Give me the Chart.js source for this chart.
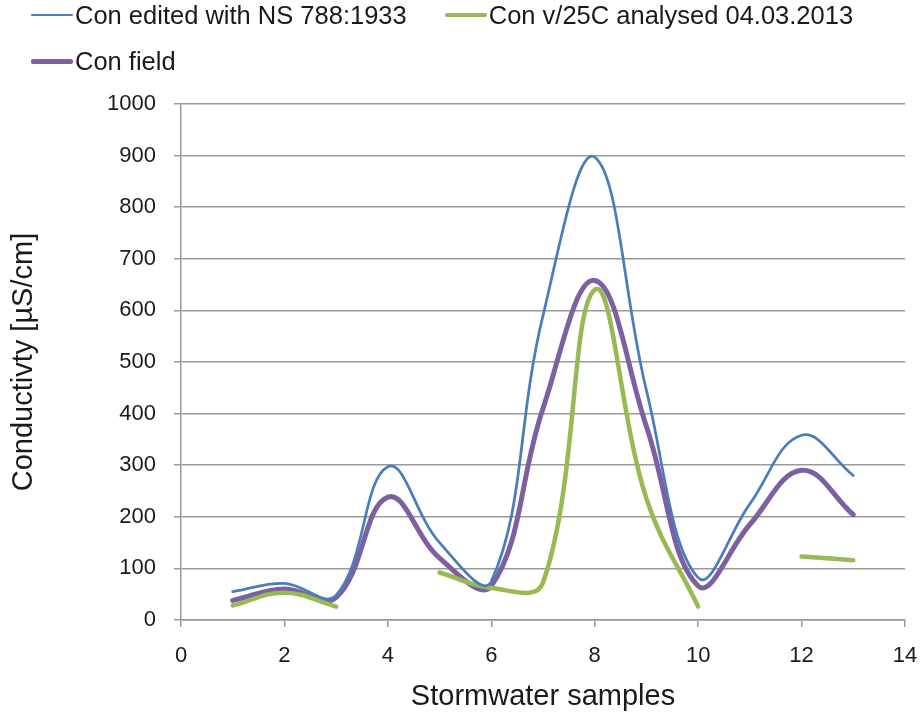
<!DOCTYPE html>
<html lang="en">
<head>
<meta charset="UTF-8">
<title>Conductivity</title>
<style>
  body { margin: 0; background: #fff; }
  #wrap { position: relative; width: 922px; height: 715px; }
  #legend {
    position: absolute; left: 31px; top: 0; width: 840px;
    display: flex; flex-wrap: wrap; column-gap: 38px; row-gap: 16px;
    font-family: "Liberation Sans", Arial, sans-serif; font-size: 25.5px; color: #1a1a1a;
  }
  .item { display: flex; align-items: center; height: 30px; line-height: 30px; white-space: nowrap; }
  .mark { width: 42px; margin-right: 2px; border-radius: 2px; }
</style>
</head>
<body>
<div id="wrap">
  <canvas id="myChart" width="922" height="715"></canvas>
  <div id="legend"></div>
</div>
<script src="https://cdn.jsdelivr.net/npm/chart.js"></script>
<script>
  // stormwater sample number (x) and conductivity values (y)
  const samples     = [1, 2, 3, 4, 5, 6, 7, 8, 9, 10, 11, 12, 13];
  const conEdited   = [55, 71, 48, 297, 150, 75, 590, 897, 445, 82, 225, 358, 280];
  const conAnalysed = [28, 53, 26, null, 92, 62, 72, 640, 235, 26, null, 123, 116];
  const conField    = [38, 60, 44, 238, 120, 66, 410, 658, 375, 66, 185, 290, 204];

  const seriesNames = ["Con edited with NS 788:1933", "Con v/25C analysed 04.03.2013", "Con field"];
  const xTitle = "Stormwater samples";
  const yTitle = "Conductivty [µS/cm]";

  function pts(vals) {
    return samples.map((s, i) => ({ x: s, y: vals[i] }));
  }

  const gridCol = "#9a9a9a";
  const txtCol = "#1a1a1a";

  // html legend laid out like the excel one
  const htmlLegend = {
    id: "htmlLegend",
    afterUpdate(chart) {
      const box = document.getElementById("legend");
      box.innerHTML = "";
      chart.data.datasets.forEach(ds => {
        const item = document.createElement("div");
        item.className = "item";
        const m = document.createElement("span");
        m.className = "mark";
        m.style.height = ds.borderWidth + "px";
        m.style.background = ds.borderColor;
        const t = document.createElement("span");
        t.textContent = ds.label;
        item.appendChild(m);
        item.appendChild(t);
        box.appendChild(item);
      });
    }
  };

  const ctx = document.getElementById("myChart");

  new Chart(ctx, {
    type: "scatter",
    data: {
      datasets: [
        { label: seriesNames[0], data: pts(conEdited), borderColor: "#4a7ebb", backgroundColor: "#4a7ebb", borderWidth: 2.75 },
        { label: seriesNames[1], data: pts(conAnalysed), borderColor: "#98b954", backgroundColor: "#98b954", borderWidth: 4.5 },
        { label: seriesNames[2], data: pts(conField), borderColor: "#7d60a0", backgroundColor: "#7d60a0", borderWidth: 5 }
      ]
    },
    options: {
      responsive: false,
      animation: false,
      devicePixelRatio: 1,
      showLine: true,
      spanGaps: false,
      elements: {
        line: { tension: 0.4, borderCapStyle: "round", borderJoinStyle: "round" },
        point: { radius: 0, hoverRadius: 0 }
      },
      layout: { padding: { top: 104, right: 17, bottom: 0, left: 0 } },
      plugins: {
        legend: { display: false },
        tooltip: { enabled: false }
      },
      scales: {
        x: {
          type: "linear",
          min: 0, max: 14,
          afterFit: (s) => { s.height = 95; s.paddingLeft = 0; s.paddingRight = 0; },
          ticks: { stepSize: 2, padding: 16, color: txtCol, font: { family: "Liberation Sans", size: 22 } },
          grid: { drawOnChartArea: false, drawTicks: true, tickLength: 7, color: gridCol, lineWidth: 1.5 },
          border: { display: true, color: gridCol, width: 1.5 },
          title: { display: true, text: xTitle, color: txtCol, padding: { top: 0, bottom: 1 }, font: { family: "Liberation Sans", size: 29 } }
        },
        y: {
          min: 0, max: 1000,
          afterFit: (s) => { s.width = 181; },
          ticks: { stepSize: 100, padding: 18, color: txtCol, font: { family: "Liberation Sans", size: 22 }, callback: (v) => String(v) },
          grid: { drawOnChartArea: true, drawTicks: true, tickLength: 7, color: gridCol, lineWidth: 1.5 },
          border: { display: true, color: gridCol, width: 1.5 },
          title: { display: true, text: yTitle, color: txtCol, padding: { top: 7, bottom: 0 }, font: { family: "Liberation Sans", size: 29 } }
        }
      }
    },
    plugins: [htmlLegend]
  });
</script>
</body>
</html>
